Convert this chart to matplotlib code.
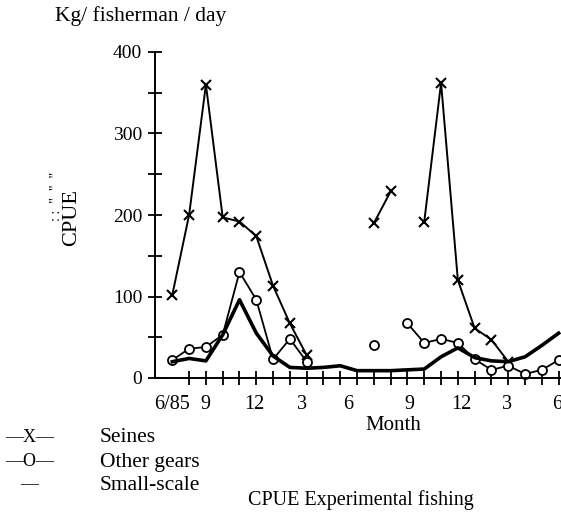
import numpy as np
import matplotlib.pyplot as plt
from matplotlib.ticker import FixedLocator

plt.rcParams['font.family'] = ['Liberation Serif', 'DejaVu Serif']

# months from 6/85 (index 0) to 5/87 (index 23)
months = np.arange(24)
nan = np.nan

seines = [102, 200, 360, 197, 192, 174, 113, 67, 28, nan, nan, nan,
          190, 229, nan, 192, 362, 120, 61, 47, 20, nan, nan, nan]
other_gears = [22, 36, 38, 53, 130, 96, 23, 48, 20, nan, nan, nan,
               41, nan, 67, 43, 48, 43, 23, 10, 15, 5, 10, 22]
small_scale = [20, 24, 21, 53, 96, 55, 27, 13, 12, 13, 15, 9,
               9, 9, 10, 11, 26, 37, 25, 21, 20, 26, 40, 55]

tick_pos = [0, 1.95, 4.9, 7.7, 10.5, 14.1, 17.2, 19.9, 22.9]
tick_labels = ['6/85', '9', '12', '3', '6', '9', '12', '3', '6']

fig = plt.figure(figsize=(5.61, 5.12), dpi=100)
ax = fig.add_axes([155 / 561, 1 - 378 / 512, 1 - 155 / 561, (378 - 52) / 512])

ax.plot(months, seines, color='black', lw=1.4, marker='x', ms=7, mew=1.5,
        clip_on=False)
ax.plot(months, other_gears, color='black', lw=1.3, marker='o', ms=6.5,
        mfc='white', mew=1.3, clip_on=False)
ax.plot(months, small_scale, color='black', lw=2.6, clip_on=False)

ax.set_xlim(-1.03, 23.14)
ax.set_ylim(0, 400)

for s in ['top', 'right']:
    ax.spines[s].set_visible(False)
ax.spines['left'].set_linewidth(1.4)
ax.spines['bottom'].set_linewidth(1.4)

ax.set_yticks([0, 100, 200, 300, 400])
ax.set_yticklabels(['0', '100', '200', '300', '400'], fontsize=14)
ax.yaxis.set_minor_locator(FixedLocator([50, 150, 250, 350]))
ax.tick_params(axis='y', which='both', direction='inout', length=9.5,
               width=1.3, pad=4.5)

ax.set_xticks(tick_pos)
ax.set_xticklabels(tick_labels, fontsize=14.5)
ax.tick_params(axis='x', which='major', length=0, pad=12)
ax.xaxis.set_minor_locator(FixedLocator(months))
ax.tick_params(axis='x', which='minor', direction='inout', length=9.5, width=1.3)

fig.text(55 / 561, 1 - 16 / 512, 'Kg/ fisherman / day', fontsize=15.5,
         ha='left', va='center')
fig.text(393 / 561, 1 - 426 / 512, 'Month', fontsize=15, ha='center', va='center')
fig.text(72 / 561, 1 - 218 / 512, 'CPUE', fontsize=16, rotation=90,
         ha='center', va='center')
fig.text(57 / 561, 1 - 196 / 512, ': :  "  "  "', fontsize=10, rotation=90,
         ha='center', va='center')

fig.text(5 / 561, 1 - 437 / 512, '—X—', fontsize=13, ha='left', va='center')
fig.text(100 / 561, 1 - 437 / 512, 'Seines', fontsize=15.5, ha='left', va='center')
fig.text(5 / 561, 1 - 462 / 512, '—O—', fontsize=13, ha='left', va='center')
fig.text(100 / 561, 1 - 462 / 512, 'Other gears', fontsize=15.5, ha='left', va='center')
fig.text(20 / 561, 1 - 485 / 512, '—', fontsize=13, ha='left', va='center')
fig.text(100 / 561, 1 - 485 / 512, 'Small-scale', fontsize=15.5, ha='left', va='center')
fig.text(248 / 561, 1 - 505 / 512, 'CPUE Experimental fishing', fontsize=14.5,
         ha='left', va='baseline')

fig.savefig('out.png', dpi=100)
